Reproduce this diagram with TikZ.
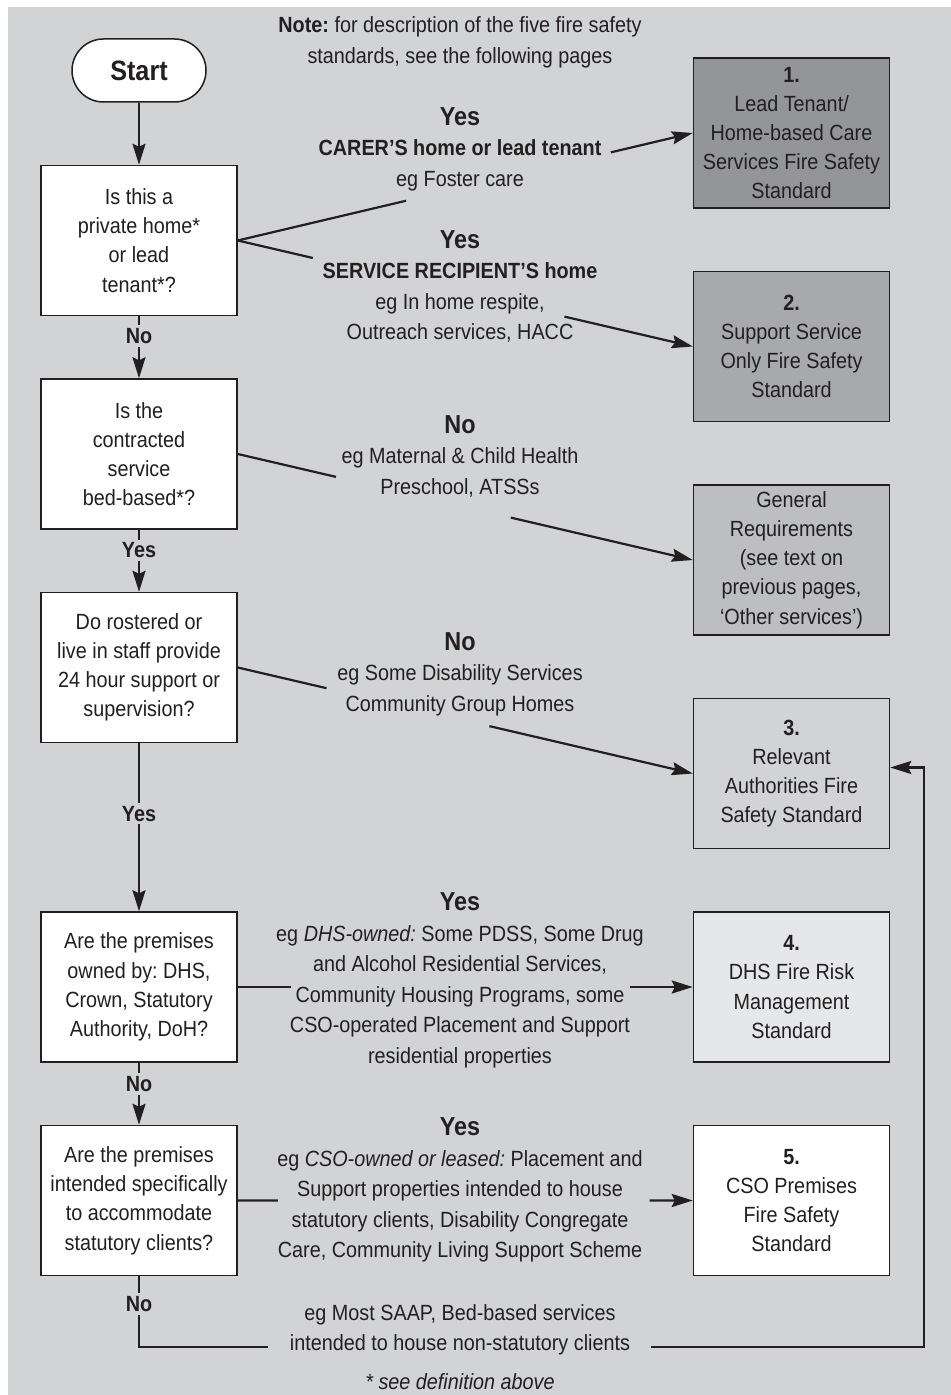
\documentclass[tikz,border=0pt]{standalone}
\usepackage{fontspec}
\setmainfont{Liberation Sans}[FakeStretch=0.9]
\usepackage{xcolor}
\usetikzlibrary{arrows.meta,positioning,calc}
\frenchspacing

\definecolor{ink}{HTML}{231F20}
\definecolor{bggray}{HTML}{D1D3D4}
\definecolor{stdone}{HTML}{939598}
\definecolor{stdtwo}{HTML}{A7A9AC}
\definecolor{stdgen}{HTML}{BCBEC0}
\definecolor{stdfour}{HTML}{E6E7E8}

\begin{document}
\begin{tikzpicture}[
  x=0.5pt, y=-0.5pt,
  node distance=31pt and 227.5pt,
  font=\fontsize{11}{15.25}\selectfont,
  box/.style={draw=ink, line width=0.75pt, fill=white, text=ink, align=center, minimum width=98pt, minimum height=75pt, inner sep=2pt, font=\fontsize{11}{14.6}\selectfont},
  std/.style={box, fill=#1},
  term/.style={draw=ink, line width=0.75pt, fill=white, text=ink, rounded corners=15.75pt, minimum width=67pt, minimum height=31.5pt, font=\fontsize{14}{16}\selectfont\bfseries},
  note/.style={align=center, text=ink},
  lbl/.style={fill=bggray, text=ink, inner sep=1.5pt, font=\fontsize{11}{13}\selectfont\bfseries},
  line/.style={draw=ink, line width=1.1pt},
  arrow/.style={line, -{Stealth[length=10.5pt, width=6.5pt, inset=1.5pt]}}
]
\useasboundingbox (0,0) rectangle (951,1395);
\fill[bggray] (8,7) rectangle (951,1395);

% question column
\node[term] (start) at (139,70.5) {Start};
\node[box, below=of start] (q1) {Is this a\\private home*\\or lead\\tenant*?};
\node[box, below=of q1] (q2) {Is the\\contracted\\service\\bed-based*?};
\node[box, below=of q2] (q3) {Do rostered or\\live in staff provide\\24 hour support or\\supervision?};
\node[box, below=84pt of q3] (q4) {Are the premises\\owned by: DHS,\\Crown, Statutory\\Authority, DoH?};
\node[box, below=of q4] (q5) {Are the premises\\intended specifically\\to accommodate\\statutory clients?};

% standards column
\node[std=stdfour, right=of q4] (s4) {\textbf{4.}\\DHS Fire Risk\\Management\\Standard};
\node[std=bggray, above=of s4] (s3) {\textbf{3.}\\Relevant\\Authorities Fire\\Safety Standard};
\node[std=stdgen, above=of s3] (gen) {General\\Requirements\\(see text on\\previous pages,\\‘Other services’)};
\node[std=stdtwo, above=of gen] (s2) {\textbf{2.}\\Support Service\\Only Fire Safety\\Standard};
\node[std=stdone, above=of s2] (s1) {\textbf{1.}\\Lead Tenant/\\Home-based Care\\Services Fire Safety\\Standard};
\node[std=white, below=of s4] (s5) {\textbf{5.}\\CSO Premises\\Fire Safety\\Standard};

% down the left
\draw[arrow] (start) -- (q1);
\draw[arrow] (q1) -- node[lbl, pos=.32]{No} (q2);
\draw[arrow] (q2) -- node[lbl, pos=.33]{Yes} (q3);
\draw[arrow] (q3) -- node[lbl, pos=.42]{Yes} (q4);
\draw[arrow] (q4) -- node[lbl, pos=.34]{No} (q5);

% across, broken round the text
\draw[line] (q1.east) -- ($(q1.east)!.37!(s1.west)$);
\draw[arrow] ($(q1.east)!.82!(s1.west)$) -- (s1.west);
\draw[line] (q1.east) -- ($(q1.east)!.165!(s2.west)$);
\draw[arrow] ($(q1.east)!.718!(s2.west)$) -- (s2.west);
\draw[line] (q2.east) -- ($(q2.east)!.216!(gen.west)$);
\draw[arrow] ($(q2.east)!.6!(gen.west)$) -- (gen.west);
\draw[line] (q3.east) -- ($(q3.east)!.195!(s3.west)$);
\draw[arrow] ($(q3.east)!.553!(s3.west)$) -- (s3.west);
\draw[line] (q4) -- ($(q4.east)!.117!(s4.west)$);
\draw[arrow] ($(q4.east)!.861!(s4.west)$) -- (s4);
\draw[line] (q5) -- ($(q5.east)!.088!(s5.west)$);
\draw[arrow] ($(q5.east)!.905!(s5.west)$) -- (s5);

% loop back to 3.
\coordinate (turn) at (924,1347);
\coordinate (gapl) at (268,1347);
\coordinate (gapr) at (651,1347);
\draw[line] (q5) -- node[lbl, pos=.39]{No} (q5 |- turn) -- (gapl);
\draw[arrow] (gapr) -- (turn) |- ([yshift=3pt]s3.east);

% texts
\node[note] (nt) at (460,42.5) {\textbf{Note:} for description of the five fire safety\\standards, see the following pages};
\node[note] (ya) at (460,149) {{\fontsize{13}{15}\selectfont\bfseries Yes}\\\textbf{CARER’S home or lead tenant}\\eg Foster care};
\node[note] (yb) at (460,286.5) {{\fontsize{13}{15}\selectfont\bfseries Yes}\\\textbf{SERVICE RECIPIENT’S home}\\eg In home respite,\\Outreach services, HACC};
\node[note] (nc) at (460,456) {{\fontsize{13}{15}\selectfont\bfseries No}\\eg Maternal \& Child Health\\Preschool, ATSSs};
\node[note] (nd) at (460,674) {{\fontsize{13}{15}\selectfont\bfseries No}\\eg Some Disability Services\\Community Group Homes};
\node[note] (ye) at (460,980.5) {{\fontsize{13}{15}\selectfont\bfseries Yes}\\eg \textit{DHS-owned:} Some PDSS, Some Drug\\and Alcohol Residential Services,\\Community Housing Programs, some\\CSO-operated Placement and Support\\residential properties};
\node[note] (yf) at (460,1190) {{\fontsize{13}{15}\selectfont\bfseries Yes}\\eg \textit{CSO-owned or leased:} Placement and\\Support properties intended to house\\statutory clients, Disability Congregate\\Care, Community Living Support Scheme};
\node[note] (ng) at (460,1330) {eg Most SAAP, Bed-based services\\intended to house non-statutory clients};
\node[note] (foot) at (460,1381.5) {\textit{* see definition above}};
\end{tikzpicture}
\end{document}
